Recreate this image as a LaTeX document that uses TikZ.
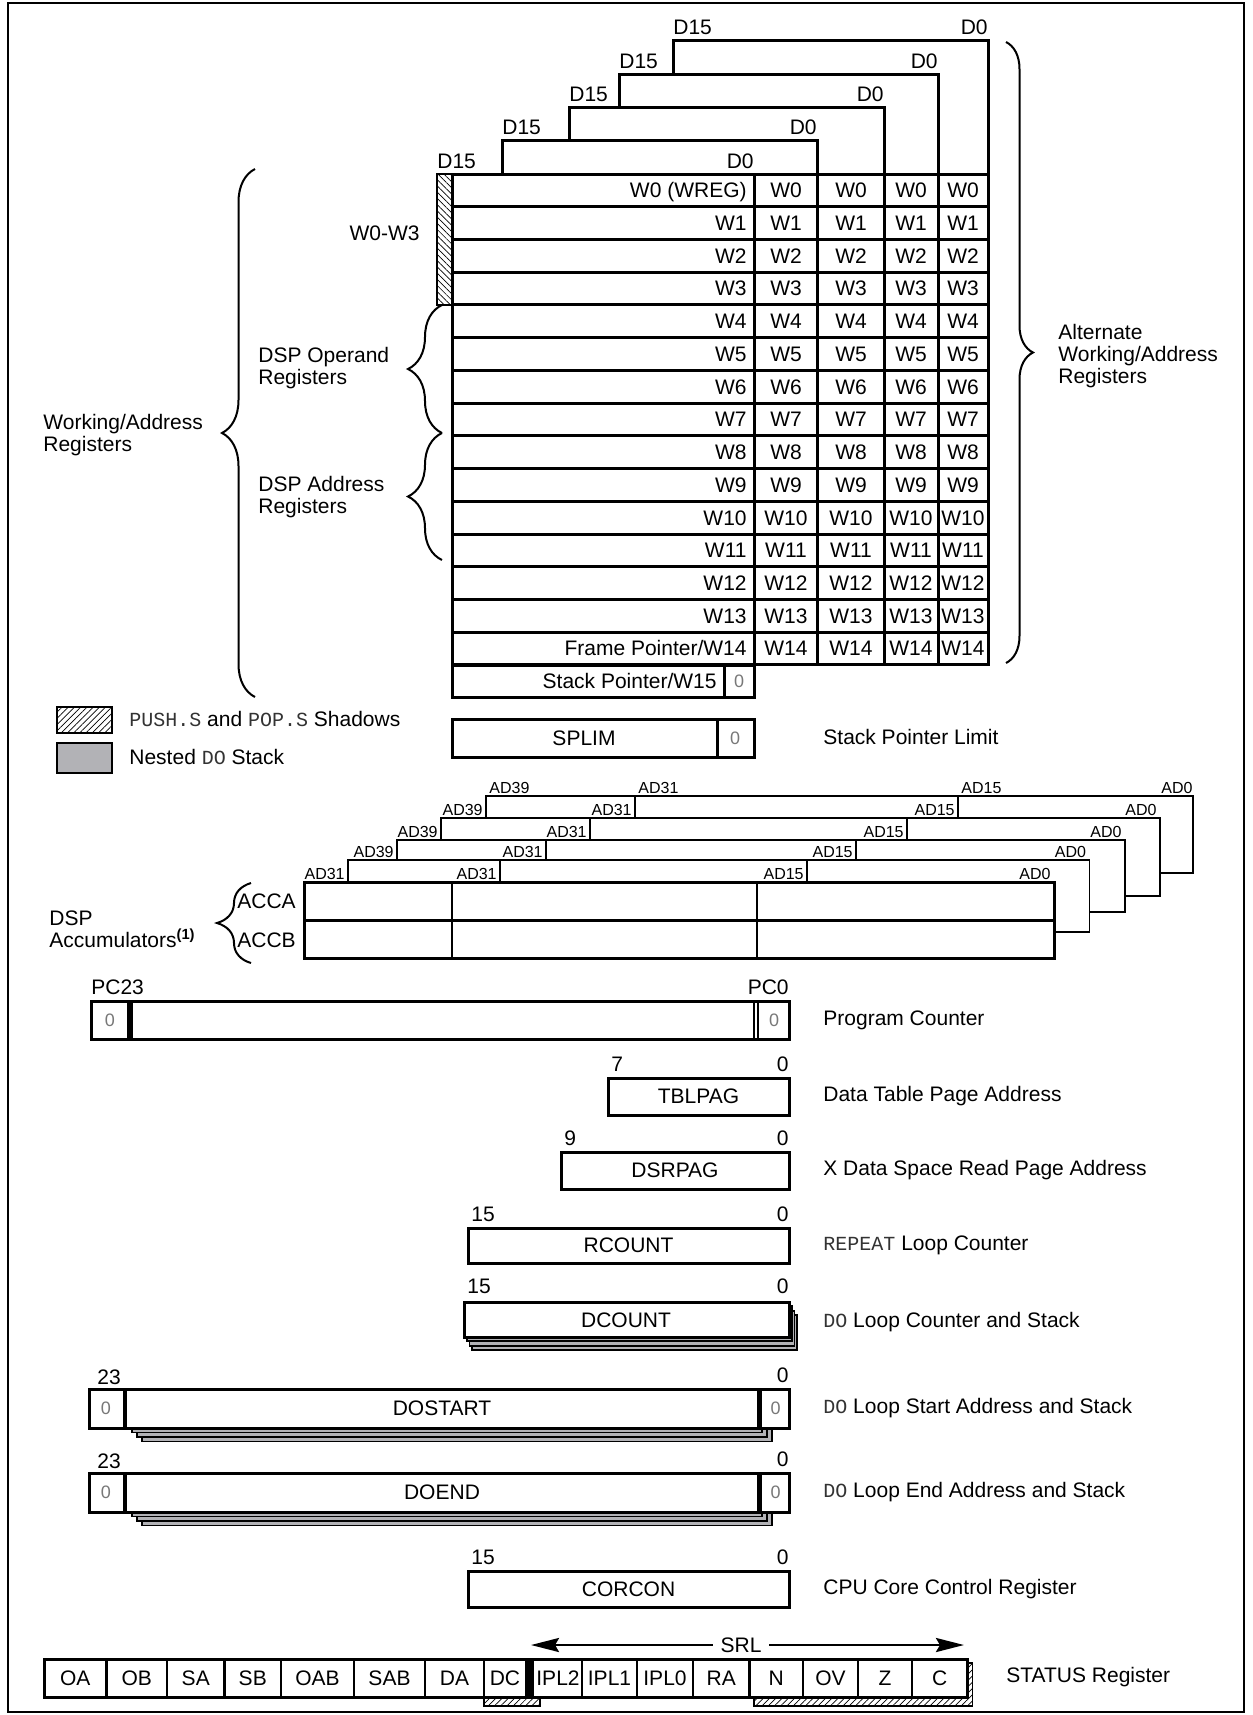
\documentclass[tikz,border=0pt]{standalone}
\usepackage{fontspec}
\setmainfont{Liberation Sans}
\setmonofont{Liberation Mono}
\usetikzlibrary{arrows.meta,patterns.meta,decorations.pathreplacing}
\definecolor{cinzaPilha}{RGB}{178,178,182}
\definecolor{cinzaZero}{RGB}{120,120,120}
\newcommand{\codigo}[1]{{\ttfamily\fontsize{10}{10}\selectfont\color{black!80}#1}}
\tikzset{
  registrador/.style={draw, line width=1.5pt, fill=white},
  linha/.style={line width=1.5pt},
  divisor/.style={line width=1.1pt},
  fino/.style={line width=0.8pt},
  rotulo/.style={inner sep=0pt, font=\fontsize{10.5}{11}\selectfont},
  celula/.style={inner sep=0pt, font=\fontsize{10.5}{11}\selectfont},
  bit/.style={inner sep=0pt, font=\fontsize{8}{8}\selectfont},
  zero/.style={inner sep=0pt, text=cinzaZero, font=\fontsize{9}{9}\selectfont},
  descricao/.style={anchor=west, inner sep=0pt, font=\fontsize{10.5}{11}\selectfont},
  grupo/.style={anchor=west, align=left, inner sep=0pt, font=\fontsize{10.5}{11}\selectfont},
  chave/.style={decorate, line width=1pt, decoration={brace, amplitude=#1}},
  hachura/.style={pattern={Lines[angle=#1, distance=2.2pt, line width=0.35pt]}},
  pilha/.style={draw, line width=0.9pt, fill=cinzaPilha},
  seta/.style={{Stealth[length=14pt, width=7pt, inset=2pt]}-{Stealth[length=14pt, width=7pt, inset=2pt]}, line width=1.4pt},
}

\begin{document}
\begin{tikzpicture}[x=0.5pt, y=-0.5pt]
  \useasboundingbox (0,0) rectangle (1253,1715);
  \draw[fino] (8,3) rectangle (1244,1712);

  % camadas sombra dos registradores W
  \foreach \esq/\topo/\dir/\base [count=\n from 2] in {502/140/817/174, 569/107/884/140, 619/74/938/107, 673/40/988/74}{
    \draw[linha] (\esq,\base) -- (\esq,\topo) -- (\dir,\topo) -- (\dir,174);
    \node[rotulo, anchor=base west] (d15n\n) at (\esq,\topo-6) {D15};
    \node[rotulo, anchor=base east] (d0n\n) at (\dir,\topo-6) {D0};
  }
  \node[rotulo, anchor=base west] (d15n1) at (437,168) {D15};
  \node[rotulo, anchor=base east] (d0n1) at (754,168) {D0};

  % W0..W14
  \foreach \i/\nome in {0/{W0 (WREG)},1/W1,2/W2,3/W3,4/W4,5/W5,6/W6,7/W7,8/W8,9/W9,10/W10,11/W11,12/W12,13/W13,14/{Frame Pointer/W14}}{
    \pgfmathsetmacro{\ya}{174+32.73*\i}
    \pgfmathsetmacro{\yb}{\ya+32.73}
    \draw[registrador] (452,\ya) rectangle (988,\yb);
    \foreach \c in {754,817,884,938} \draw[linha] (\c,\ya) -- (\c,\yb);
    \node[rotulo, anchor=base east] (w\i) at (747,\yb-9) {\nome};
    \foreach \c/\xc in {1/786,2/851,3/911,4/963}
      \node[rotulo, anchor=base] (w\i c\c) at (\xc,\yb-9) {W\i};
  }
  \draw[registrador] (452,665) rectangle (754,697);
  \draw[linha] (724,665) -- (724,697);
  \node[rotulo, anchor=base east] (w15) at (717,688) {Stack Pointer/W15};
  \node[zero] (w15z) at (739,681) {0};
  \draw[line width=1pt, hachura=-45] (437,174) rectangle (452,305);

  % chaves
  \draw[chave=16.5pt] (255,697) -- (255,169);
  \draw[chave=17pt] (442,433) -- (442,305);
  \draw[chave=17pt] (442,560) -- (442,433);
  \draw[chave=13.5pt] (1006,42) -- (1006,663);
  \node[grupo] (wa) at (43,435) {Working/Address\\Registers};
  \node[rotulo, anchor=east] (w03) at (420,233) {W0-W3};
  \node[grupo] (dspop) at (258,368) {DSP Operand\\Registers};
  \node[grupo] (dspad) at (258,497) {DSP Address\\Registers};
  \node[grupo] (alt) at (1058,356) {Alternate\\Working/Address\\Registers};

  % legenda
  \draw[fino, hachura=45] (57,707) rectangle (112,733);
  \draw[fino, fill=cinzaPilha] (57,743) rectangle (112,773);
  \node[descricao] (leg1) at (129,719) {\codigo{PUSH.S} and \codigo{POP.S} Shadows};
  \node[descricao] (leg2) at (129,757) {Nested \codigo{DO} Stack};

  % SPLIM
  \draw[registrador] (452,719) rectangle (754,757);
  \draw[linha] (717,719) -- (717,757);
  \node[rotulo] (splim) at (584,738) {SPLIM};
  \node[zero] (splimz) at (735,738) {0};
  \node[descricao] (splimd) at (823,737) {Stack Pointer Limit};

  % acumuladores
  \foreach \esq/\topo/\da/\db/\dir/\base/\pt/\pd in {348/860/500/807/1089.5/932/882/1054, 397/840/546/856/1125/912/860/1089.5, 441/818/590/907/1160/896/840/1125, 486/796/635/958/1193/873/818/1160}{
    \draw[fino] (\esq,\pt) -- (\esq,\topo) -- (\dir,\topo) -- (\dir,\base) -- (\pd,\base);
    \draw[fino] (\da,\topo) -- (\da,\pt) (\db,\topo) -- (\db,\pt);
  }
  \foreach \y/\a/\b/\c/\d/\ta [count=\n] in {879/348/500/807/1054/AD31, 857/397/546/856/1089.5/AD39, 837/441/590/907/1125/AD39, 815/486/635/958/1160/AD39}{
    \node[bit, anchor=base east] (ad\n a) at (\a-3,\y) {\ta};
    \node[bit, anchor=base east] (ad\n b) at (\b-3,\y) {AD31};
    \node[bit, anchor=base east] (ad\n c) at (\c-3,\y) {AD15};
    \node[bit, anchor=base east] (ad\n d) at (\d-3,\y) {AD0};
  }
  \node[bit, anchor=base west] (ad5a) at (489,793) {AD39};
  \node[bit, anchor=base west] (ad5b) at (638,793) {AD31};
  \node[bit, anchor=base west] (ad5c) at (961,793) {AD15};
  \node[bit, anchor=base east] (ad5d) at (1193,793) {AD0};
  \draw[registrador] (304,882) rectangle (1054,958);
  \draw[linha] (304,920) -- (1054,920);
  \draw[divisor] (452,882) -- (452,958) (757,882) -- (757,958);
  \draw[chave=17pt] (251,963) -- (251,883);
  \node[rotulo, anchor=west] (acca) at (237,901) {ACCA};
  \node[rotulo, anchor=west] (accb) at (237,940) {ACCB};
  \node[grupo] (acc) at (49,929) {DSP\\Accumulators\textsuperscript{\bfseries(1)}};

  % contador de programa
  \draw[registrador] (91,1001) rectangle (789,1039);
  \fill (127,1001) rectangle (133,1039);
  \draw[fino] (754,1001) -- (754,1039) (758,1001) -- (758,1039);
  \node[zero] (pcz1) at (110,1020) {0};
  \node[zero] (pcz0) at (774,1020) {0};
  \node[rotulo, anchor=base west] (pc23) at (91,994) {PC23};
  \node[rotulo, anchor=base east] (pc0) at (789,994) {PC0};
  \node[descricao] (pcd) at (823,1020) {Program Counter};

  % registradores simples
  \foreach \esq/\ya/\yb/\msb/\nome/\desc [count=\n] in {
      608/1078/1115/7/TBLPAG/{Data Table Page Address},
      561/1152/1189/9/DSRPAG/{X Data Space Read Page Address},
      468/1228/1263/15/RCOUNT/{\codigo{REPEAT} Loop Counter},
      468/1571/1607/15/CORCON/{CPU Core Control Register}}{
    \draw[registrador] (\esq,\ya) rectangle (789,\yb);
    \node[rotulo] (reg\n) at ({(\esq+789)/2},{(\ya+\yb)/2}) {\nome};
    \node[rotulo, anchor=base west] (msb\n) at (\esq+3,\ya-7) {\msb};
    \node[rotulo, anchor=base east] (lsb\n) at (789,\ya-7) {0};
    \node[descricao] (desc\n) at (823,{(\ya+\yb)/2}) {\desc};
  }

  % DCOUNT com pilha
  \foreach \k in {3,2,1}
    \draw[pilha] (464+2.7*\k,1302+4.3*\k) rectangle (789+2.7*\k,1337+4.3*\k);
  \draw[registrador] (464,1302) rectangle (789,1337);
  \node[rotulo] (dcount) at (626,1320) {DCOUNT};
  \node[rotulo, anchor=base west] (dcount15) at (467,1293) {15};
  \node[rotulo, anchor=base east] (dcount0) at (789,1293) {0};
  \node[descricao] (dcountd) at (823,1322) {\codigo{DO} Loop Counter and Stack};

  % DOSTART e DOEND com pilha
  \foreach \ya/\yb/\nome/\desc in {1389/1428/DOSTART/{\codigo{DO} Loop Start Address and Stack}, 1473/1512/DOEND/{\codigo{DO} Loop End Address and Stack}}{
    \foreach \k in {3,2,1}
      \draw[pilha] (127+5*\k,\ya+4.5*\k) rectangle (757+5*\k,\yb+4.5*\k);
    \draw[registrador] (89,\ya) rectangle (789,\yb);
    \fill (123,\ya) rectangle (127,\yb);
    \fill (757,\ya) rectangle (762,\yb);
    \node[zero] (\nome z1) at (106,{(\ya+\yb)/2}) {0};
    \node[zero] (\nome z0) at (775.5,{(\ya+\yb)/2}) {0};
    \node[rotulo] (\nome) at (442,{(\ya+\yb)/2}) {\nome};
    \node[rotulo, anchor=base west] (\nome 23) at (97,\ya-5) {23};
    \node[rotulo, anchor=base east] (\nome 0) at (789,\ya-7) {0};
    \node[descricao] (\nome d) at (823,{(\ya+\yb)/2}) {\desc};
  }

  % STATUS
  \draw[fino, hachura=45] (484,1697) rectangle (540,1706);
  \draw[fino, hachura=45] (754,1697) -- (754,1706) -- (972.5,1706) -- (972.5,1663) -- (967.5,1663) -- (967.5,1697) -- cycle;
  \draw[registrador] (44,1659) rectangle (967.5,1697);
  \foreach \a/\b/\t in {44/106.5/OA, 106.5/167/OB, 167/224.5/SA, 224.5/281/SB, 281/354/OAB, 354/425/SAB, 425/484/DA, 484/526/DC, 534/582/IPL2, 582/637/IPL1, 637/693/IPL0, 693/749.5/RA, 749.5/803/N, 803/858/OV, 858/912/Z, 912/967.5/C}{
    \draw[divisor] (\b,1659) -- (\b,1697);
    \node[celula] (st\t) at ({(\a+\b)/2},1678) {\t};
  }
  \fill (526,1659) rectangle (534,1697);
  \coordinate (srlE) at (531,1645);
  \coordinate (srlD) at (964,1645);
  \draw[seta] (srlE) -- (srlD);
  \node[rotulo, fill=white, inner xsep=4pt, inner ysep=1pt] (srl) at (741,1645) {SRL};
  \node[descricao] (status) at (1006,1677) {STATUS Register};
\end{tikzpicture}
\end{document}
